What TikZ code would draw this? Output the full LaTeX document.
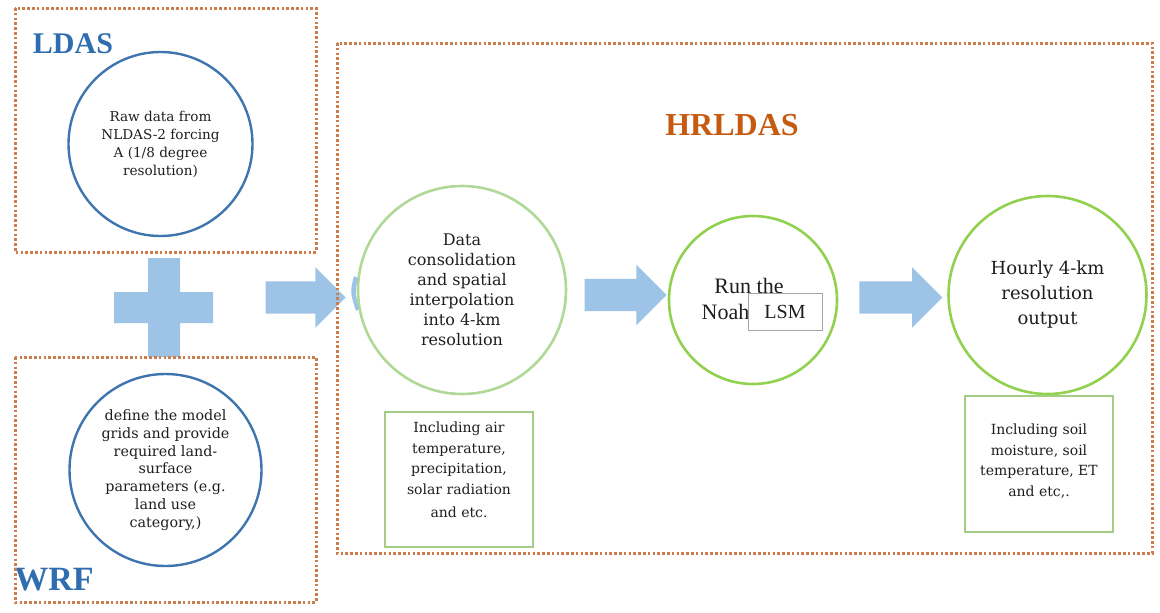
\documentclass[tikz,border=0pt]{standalone}
\usepackage{fontspec}
\setmainfont{DejaVu Serif}
\newfontfamily\timesfont{Liberation Serif}
\usetikzlibrary{shapes.arrows}
\definecolor{frame}{HTML}{CD7D4B}
\definecolor{ldasblue}{HTML}{3F75AE}
\definecolor{titleblue}{HTML}{2F6DB0}
\definecolor{hrorange}{HTML}{C55A11}
\definecolor{arrowfill}{HTML}{9DC3E6}
\definecolor{leaf}{HTML}{92D050}
\definecolor{paleleaf}{HTML}{B0D896}
\definecolor{boxleaf}{HTML}{A3CC85}
\definecolor{ink}{HTML}{1E1E1E}
\newcommand{\fsz}[2]{\fontsize{#1}{#2}\selectfont}

\begin{document}
\begin{tikzpicture}[
  x=1pt,y=-1pt, text=ink,
  group/.style={draw=frame,line width=3pt,dash pattern=on 2.6pt off 2.2pt},
  title/.style={font=\timesfont\bfseries\fsz{#1}{#1}},
  source/.style={circle,draw=ldasblue,line width=2.4pt,minimum size=#1,inner sep=0pt,align=center},
  stage/.style={circle,draw=leaf,line width=2.6pt,minimum size=#1,inner sep=0pt,align=center},
  info/.style={draw=boxleaf,line width=1.6pt,minimum width=148pt,minimum height=#1},
  infotext/.style={align=center,font=\fsz{14}{20.5}},
  flow/.style={single arrow,fill=arrowfill,inner xsep=0pt,inner ysep=16pt,
    single arrow head extend=14pt,single arrow tip angle=90,minimum height=#1},
  lsm/.style={draw=gray!70,line width=.8pt,fill=white,minimum width=74pt,
    minimum height=37pt,font=\timesfont\fsz{20}{22}}
]
\useasboundingbox (0,0) rectangle (1160,613);

\node[title=30,text=titleblue] (ldastitle) at (73,44) {LDAS};
\node[source=184pt,font=\fsz{13.6}{18}] (ldas) at (160.5,144) {Raw data from\\NLDAS-2 forcing\\A (1/8 degree\\resolution)};
\fill[arrowfill] (148,258) rectangle (180,357) (114,292) rectangle (213,323);
\node[source=192pt,font=\fsz{14.3}{17.8}] (wrf) at (165.5,470) {define the model\\grids and provide\\required land-\\surface\\parameters (e.g.\\land use\\category,)};
\node[title=34,text=titleblue] (wrftitle) at (54,580) {WRF};

\node[title=32,text=hrorange] (hrtitle) at (732,125) {HRLDAS};
\node[stage=208pt,draw=paleleaf,font=\fsz{16}{20}] (data) at (462,290) {Data\\consolidation\\and spatial\\interpolation\\into 4-km\\resolution};
\node[stage=168pt] (noah) at (753,300) {};
\node[font=\timesfont\fsz{22}{26}] (runthe) at (749,285.5) {Run the};
\node[font=\timesfont\fsz{22}{26}] (noahword) at (725.5,311.5) {Noah};
\node[lsm] (lsmbox) at (785,311.5) {LSM};
\node[stage=198pt,font=\fsz{18}{25}] (output) at (1047.5,295) {Hourly 4-km\\resolution\\output};

\node[info=135pt] (airbox) at (459,479.5) {};
\node[infotext] (airtext) at (459,470) {Including air\\temperature,\\precipitation,\\solar radiation\\[3pt]and etc.};
\node[info=136pt] (soilbox) at (1039,464) {};
\node[infotext] (soiltext) at (1039,461) {Including soil\\moisture, soil\\temperature, ET\\and etc,.};

% block arrows, the frame line runs over the first tip
\node[flow=80pt] (tohrldas) at (297.5,297.5) {};
\fill[arrowfill] (354,276) .. controls (350,292) .. (356,311) -- (359,309) .. controls (355,292) .. (358,278) -- cycle;
\path (data.east) -- node[flow=82pt] (tonoah) {} (noah.west);
\path (noah.east) -- node[flow=83pt] (tooutput) {} (output.west);

\draw[group] (15,8) rectangle (316,252);
\draw[group] (15,357) rectangle (316,602);
\draw[group] (337,43) rectangle (1152,553);
\end{tikzpicture}
\end{document}
